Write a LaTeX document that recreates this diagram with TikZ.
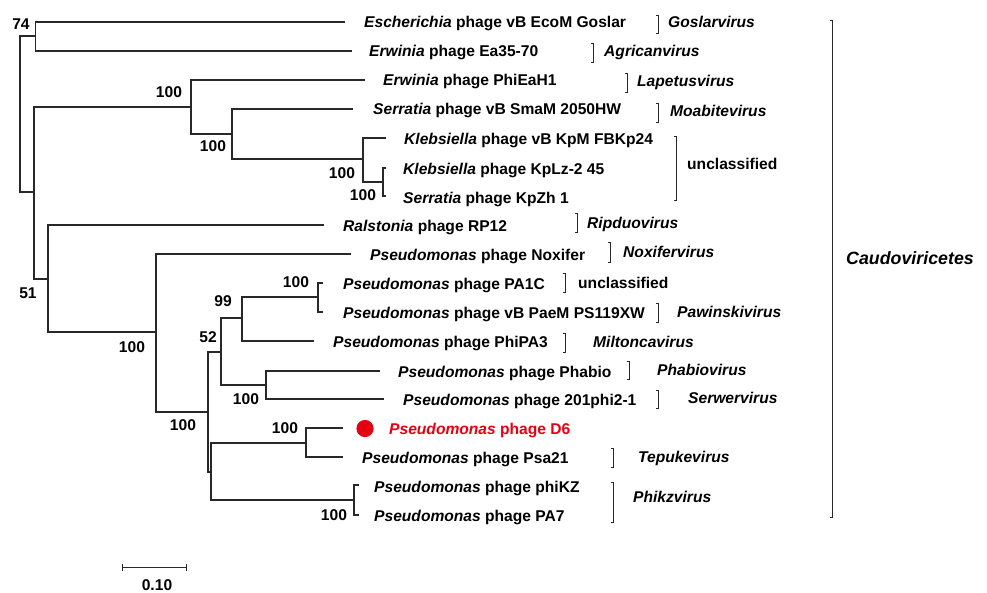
\documentclass[tikz,border=0pt]{standalone}
\usepackage{fontspec}
\setmainfont{Liberation Sans}
\definecolor{d6red}{RGB}{230,0,18}
\definecolor{ln}{RGB}{40,40,40}
\tikzset{
  br/.style={draw=ln, line width=1.2pt},
  gb/.style={draw=ln, line width=0.9pt},
  lf/.style={font=\fontsize{15.6}{18}\selectfont\bfseries, inner sep=0pt, anchor=base west, yshift=-5.5pt},
  bs/.style={font=\fontsize{15.6}{18}\selectfont\bfseries, inner sep=0pt, anchor=center},
}
\begin{document}
\begin{tikzpicture}[x=1pt, y=-1pt]
\useasboundingbox (0,0) rectangle (987,592);
% ---------- tree coordinates ----------
\coordinate (R0) at (20,114);
\coordinate (N74) at (35.5,36);
\coordinate (N51) at (34,192);
\coordinate (N100a) at (191,107);
\coordinate (N100b) at (232,134);
\coordinate (NKleb) at (363,159);
\coordinate (Ntiny) at (383,182);
\coordinate (N100c) at (48,279);
\coordinate (N100d) at (156,332);
\coordinate (NX) at (208,412);
\coordinate (N52) at (221,352);
\coordinate (N99) at (242,318);
\coordinate (N100e) at (318,297);
\coordinate (N100f) at (266,385);
\coordinate (NY) at (211,472);
\coordinate (ND6) at (306,443);
\coordinate (NphiKZ) at (354,500);
% tips
\coordinate (tGoslar) at (345,22);
\coordinate (tEa) at (352,51);
\coordinate (tPhiEaH1) at (365,80);
\coordinate (tSer) at (353,109);
\coordinate (tFBK) at (386,138);
\coordinate (tKpLz) at (386,168);
\coordinate (tKpZh) at (386,196);
\coordinate (tRal) at (324,225);
\coordinate (tNox) at (351,254);
\coordinate (tPA1C) at (323,283);
\coordinate (tPS119) at (323,312);
\coordinate (tPhiPA3) at (314,341);
\coordinate (tPhabio) at (380,371);
\coordinate (t201) at (384,399);
\coordinate (tD6) at (343,428);
\coordinate (tPsa21) at (343,457);
\coordinate (tphiKZ) at (359,485);
\coordinate (tPA7) at (359,515);
% ---------- branches ----------
\draw[br] (N74) -| (R0 |- N51) -- (N51);
\draw[br] (tGoslar) -| (N74 |- tEa) -- (tEa);
\draw[br] (N100a) -| (N51 |- N100c) -- (N100c);
\draw[br] (tPhiEaH1) -| (N100a |- N100b) -- (N100b);
\draw[br] (tSer) -| (N100b |- NKleb) -- (NKleb);
\draw[br] (tFBK) -| (NKleb |- Ntiny) -- (Ntiny);
\draw[br] (tKpLz) -| (Ntiny |- tKpZh) -- (tKpZh);
\draw[br] (tRal) -| (N100c |- N100d) -- (N100d);
\draw[br] (tNox) -| (N100d |- NX) -- (NX);
\draw[br] (N52) -| (NX |- NY) -- (NY);
\draw[br] (N99) -| (N52 |- N100f) -- (N100f);
\draw[br] (N100e) -| (N99 |- tPhiPA3) -- (tPhiPA3);
\draw[br] (tPA1C) -| (N100e |- tPS119) -- (tPS119);
\draw[br] (tPhabio) -| (N100f |- t201) -- (t201);
\draw[br] (ND6) -| (NY |- NphiKZ) -- (NphiKZ);
\draw[br] (tD6) -| (ND6 |- tPsa21) -- (tPsa21);
\draw[br] (tphiKZ) -| (NphiKZ |- tPA7) -- (tPA7);
% ---------- bootstrap values ----------
\node[bs] (b74) at (21,24) {74};
\node[bs] (b1) at (169,92) {100};
\node[bs] (b2) at (213,146) {100};
\node[bs] (b3) at (342,173) {100};
\node[bs] (b4) at (363,195) {100};
\node[bs] (b51) at (28,293) {51};
\node[bs] (b5) at (132,347) {100};
\node[bs] (b6) at (183,425) {100};
\node[bs] (b52) at (208,337) {52};
\node[bs] (b99) at (223,301) {99};
\node[bs] (b7) at (296,282) {100};
\node[bs] (b8) at (246,399) {100};
\node[bs] (b9) at (285,428) {100};
\node[bs] (b10) at (334,515) {100};
% ---------- leaf labels ----------
\node[lf] (lGoslar) at (364,22) {\textit{Escherichia} phage vB EcoM Goslar};
\node[lf] (lEa) at (369,51) {\textit{Erwinia} phage Ea35-70};
\node[lf] (lPhiEaH1) at (383,80) {\textit{Erwinia} phage PhiEaH1};
\node[lf] (lSer) at (373,109) {\textit{Serratia} phage vB SmaM 2050HW};
\node[lf] (lFBK) at (404,139) {\textit{Klebsiella} phage vB KpM FBKp24};
\node[lf] (lKpLz) at (403,169) {\textit{Klebsiella} phage KpLz-2 45};
\node[lf] (lKpZh) at (403,198) {\textit{Serratia} phage KpZh 1};
\node[lf] (lRal) at (343,226) {\textit{Ralstonia} phage RP12};
\node[lf] (lNox) at (370,255) {\textit{Pseudomonas} phage Noxifer};
\node[lf] (lPA1C) at (343,284) {\textit{Pseudomonas} phage PA1C};
\node[lf] (lPS119) at (343,313) {\textit{Pseudomonas} phage vB PaeM PS119XW};
\node[lf] (lPhiPA3) at (333,342) {\textit{Pseudomonas} phage PhiPA3};
\node[lf] (lPhabio) at (398,372) {\textit{Pseudomonas} phage Phabio};
\node[lf] (l201) at (403,400) {\textit{Pseudomonas} phage 201phi2-1};
\node[lf, text=d6red] (lD6) at (389,429) {\textit{Pseudomonas} phage D6};
\node[lf] (lPsa21) at (362,458) {\textit{Pseudomonas} phage Psa21};
\node[lf] (lphiKZ) at (374,487) {\textit{Pseudomonas} phage phiKZ};
\node[lf] (lPA7) at (374,516) {\textit{Pseudomonas} phage PA7};
\fill[d6red] (365,428.5) circle (8.6pt);
% ---------- genus brackets ----------
\draw[gb] (656,15) -- (658,15) -- (658,33) -- (656,33);
\node[lf] (gGos) at (668,22) {\textit{Goslarvirus}};
\draw[gb] (591,43) -- (593,43) -- (593,62) -- (591,62);
\node[lf] (gAgr) at (604,51) {\textit{Agricanvirus}};
\draw[gb] (625,73) -- (627,73) -- (627,92) -- (625,92);
\node[lf] (gLap) at (637,81) {\textit{Lapetusvirus}};
\draw[gb] (656,103) -- (658,103) -- (658,122) -- (656,122);
\node[lf] (gMoa) at (670,111) {\textit{Moabitevirus}};
\draw[gb] (674,136) -- (676,136) -- (676,200) -- (674,200);
\node[lf] (gUn1) at (687,164) {unclassified};
\draw[gb] (575,213) -- (577,213) -- (577,232) -- (575,232);
\node[lf] (gRip) at (587,223) {\textit{Ripduovirus}};
\draw[gb] (608,242) -- (610,242) -- (610,262) -- (608,262);
\node[lf] (gNox) at (623,252) {\textit{Noxifervirus}};
\draw[gb] (563,273) -- (565,273) -- (565,292) -- (563,292);
\node[lf] (gUn2) at (578,283) {unclassified};
\draw[gb] (656,303) -- (658,303) -- (658,322) -- (656,322);
\node[lf] (gPaw) at (677,312) {\textit{Pawinskivirus}};
\draw[gb] (563,333) -- (565,333) -- (565,352) -- (563,352);
\node[lf] (gMil) at (593,342) {\textit{Miltoncavirus}};
\draw[gb] (627,361) -- (629,361) -- (629,379) -- (627,379);
\node[lf] (gPha) at (657,370) {\textit{Phabiovirus}};
\draw[gb] (656,390) -- (658,390) -- (658,408) -- (656,408);
\node[lf] (gSer) at (688,398) {\textit{Serwervirus}};
\draw[gb] (611,448) -- (613,448) -- (613,467) -- (611,467);
\node[lf] (gTep) at (638,457) {\textit{Tepukevirus}};
\draw[gb] (611,482) -- (613,482) -- (613,522) -- (611,522);
\node[lf] (gPhi) at (633,497) {\textit{Phikzvirus}};
\draw[gb] (830,20) -- (832,20) -- (832,517) -- (830,517);
\node[lf, font=\fontsize{17.8}{20}\selectfont\bfseries, yshift=-0.8pt] (gCau) at (846,258) {\textit{Caudoviricetes}};
% ---------- scale bar ----------
\coordinate (sL) at (122,567);
\coordinate (sR) at (186,567);
\draw[gb] (sL) -- (sR);
\draw[gb] ([yshift=3.5pt]sL) -- ([yshift=-3.5pt]sL);
\draw[gb] ([yshift=3.5pt]sR) -- ([yshift=-3.5pt]sR);
\node[bs, anchor=base] (scl) at (157,590.5) {0.10};
\end{tikzpicture}
\end{document}
